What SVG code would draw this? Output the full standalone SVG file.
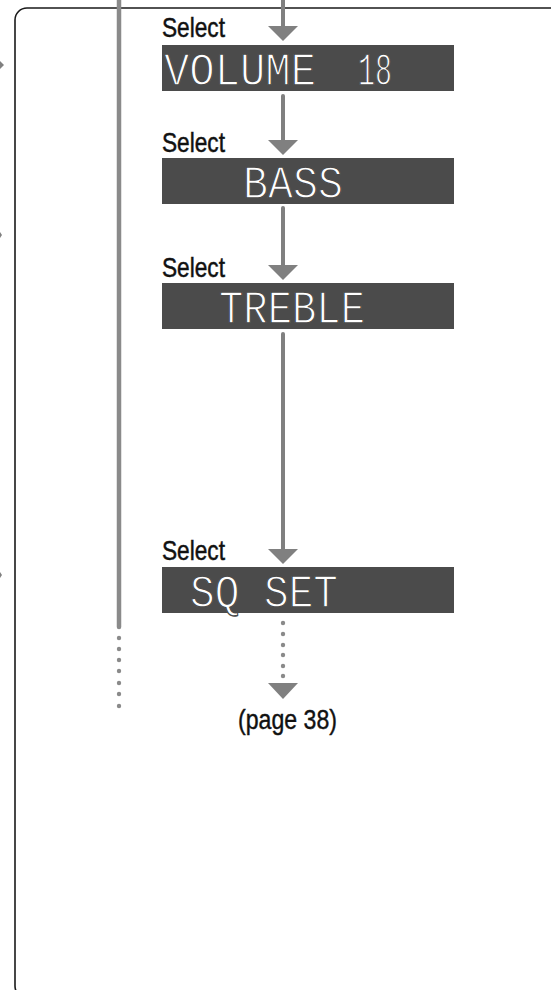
<svg xmlns="http://www.w3.org/2000/svg" width="551" height="990" viewBox="0 0 551 990">
<defs>
<style>
.frame{fill:none;stroke:#1a1a1a;stroke-width:1.6}
.disp{fill:#4b4b4b}
.lcd{fill:#ffffff;stroke:#4b4b4b;stroke-width:1.3;font-family:"Liberation Mono","DejaVu Sans Mono",monospace;font-size:46px}
.sel{fill:#111111;stroke:#111111;stroke-width:0.5;font-family:"Liberation Sans",Arial,sans-serif;font-size:28px}
.pg{fill:#111111;stroke:#111111;stroke-width:0.4;font-family:"Liberation Sans",Arial,sans-serif;font-size:27px}
.conn{stroke:#808080;stroke-width:4;stroke-linecap:round;fill:none}
.head{fill:#808080}
.dot{fill:#8a8a8a}
.side{stroke:#8a8a8a;stroke-width:4.5;stroke-linecap:round;fill:none}
</style>
</defs>
<rect class="frame" x="15" y="8" width="560" height="990" rx="12" ry="12"/>
<g id="side-marks">
<polygon class="head" points="0,61 4,65 0,69"/>
<polygon class="head" points="0,232 2,235 0,238"/>
<polygon class="head" points="0,572 2,575 0,578"/>
</g>
<g id="side-line">
<line class="side" x1="119" y1="-2" x2="119" y2="627"/>
<circle class="dot" cx="119" cy="638" r="2.2"/>
<circle class="dot" cx="119" cy="649" r="2.2"/>
<circle class="dot" cx="119" cy="660" r="2.2"/>
<circle class="dot" cx="119" cy="671" r="2.2"/>
<circle class="dot" cx="119" cy="683" r="2.2"/>
<circle class="dot" cx="119" cy="694" r="2.2"/>
<circle class="dot" cx="119" cy="706" r="2.2"/>
</g>
<g id="connectors">
<line class="conn" x1="283" y1="-2" x2="283" y2="28"/>
<polygon class="head" points="268,26 298,26 283,41"/>
<line class="conn" x1="283" y1="96" x2="283" y2="142"/>
<polygon class="head" points="268,140 298,140 283,155"/>
<line class="conn" x1="283" y1="208" x2="283" y2="267"/>
<polygon class="head" points="268,265 298,265 283,280"/>
<line class="conn" x1="283" y1="334" x2="283" y2="550"/>
<polygon class="head" points="268,549 298,549 283,564"/>
<circle class="dot" cx="283" cy="623" r="2.2"/>
<circle class="dot" cx="283" cy="634" r="2.2"/>
<circle class="dot" cx="283" cy="645" r="2.2"/>
<circle class="dot" cx="283" cy="655" r="2.2"/>
<circle class="dot" cx="283" cy="666" r="2.2"/>
<circle class="dot" cx="283" cy="676" r="2.2"/>
<polygon class="head" points="268,683 298,683 283,699"/>
</g>
<g id="node-volume">
<text class="sel" x="162" y="37" textLength="63" lengthAdjust="spacingAndGlyphs">Select</text>
<rect class="disp" x="162" y="45" width="292" height="46"/>
<text class="lcd" x="164" y="85" textLength="152" lengthAdjust="spacingAndGlyphs">VOLUME</text>
<text class="lcd" x="358" y="85" textLength="34" lengthAdjust="spacingAndGlyphs">18</text>
</g>
<g id="node-bass">
<text class="sel" x="162" y="152" textLength="63" lengthAdjust="spacingAndGlyphs">Select</text>
<rect class="disp" x="162" y="158" width="292" height="46"/>
<text class="lcd" x="243" y="198" textLength="100" lengthAdjust="spacingAndGlyphs">BASS</text>
</g>
<g id="node-treble">
<text class="sel" x="162" y="277" textLength="63" lengthAdjust="spacingAndGlyphs">Select</text>
<rect class="disp" x="162" y="283" width="292" height="46"/>
<text class="lcd" x="219" y="323" textLength="146" lengthAdjust="spacingAndGlyphs">TREBLE</text>
</g>
<g id="node-sqset">
<text class="sel" x="162" y="560" textLength="63" lengthAdjust="spacingAndGlyphs">Select</text>
<rect class="disp" x="162" y="567" width="292" height="46"/>
<text class="lcd" x="190" y="607" textLength="148" lengthAdjust="spacingAndGlyphs">SQ SET</text>
</g>
<g id="node-page">
<text class="pg" x="238" y="729" textLength="99" lengthAdjust="spacingAndGlyphs">(page 38)</text>
</g>
</svg>
